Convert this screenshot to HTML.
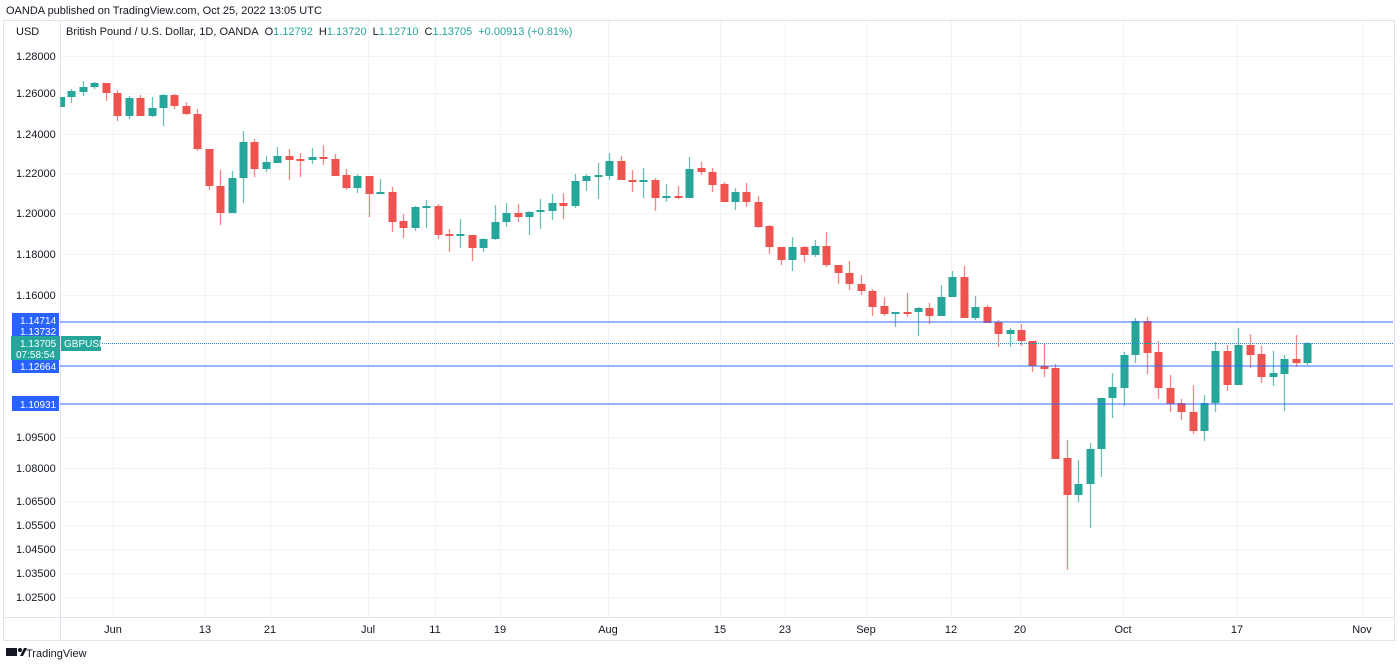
<!DOCTYPE html>
<html><head><meta charset="utf-8"><style>
body{margin:0;background:#fff;width:1400px;height:667px;overflow:hidden;font-family:"Liberation Sans",sans-serif}
svg{position:absolute;left:0;top:0}
</style></head><body>
<svg id="s" width="1400" height="667" xmlns="http://www.w3.org/2000/svg" font-family="Liberation Sans, sans-serif">
<text x="6" y="14" font-size="11" fill="#131722">OANDA published on TradingView.com, Oct 25, 2022 13:05 UTC</text>
<rect x="3.5" y="20.5" width="1391" height="620" fill="none" stroke="#e0e3eb"/>
<line x1="60.5" y1="20" x2="60.5" y2="640" stroke="#e0e3eb"/>
<line x1="3" y1="617.5" x2="1395" y2="617.5" stroke="#e0e3eb"/>
<g id="grid" stroke="#f0f3fa"></g>
<g id="c"></g>
<g id="axis" font-size="11" fill="#131722"></g>
<text x="16" y="35" font-size="11" fill="#131722">USD</text>
<text x="66" y="35" font-size="11" fill="#131722">British Pound / U.S. Dollar, 1D, OANDA<tspan dx="6">O</tspan><tspan fill="#26a69a">1.12792</tspan><tspan dx="6">H</tspan><tspan fill="#26a69a">1.13720</tspan><tspan dx="6">L</tspan><tspan fill="#26a69a">1.12710</tspan><tspan dx="6">C</tspan><tspan fill="#26a69a">1.13705</tspan><tspan dx="6" fill="#26a69a">+0.00913 (+0.81%)</tspan></text>
<g stroke="#2962ff" stroke-opacity="0.75" stroke-width="1.2">
<line x1="60" y1="322" x2="1393" y2="322"/>
<line x1="60" y1="366" x2="1393" y2="366"/>
<line x1="60" y1="404" x2="1393" y2="404"/>
</g>
<line x1="100" y1="343.5" x2="1393" y2="343.5" stroke="#26a69a" stroke-dasharray="1,1"/>
<line x1="100" y1="343.5" x2="1393" y2="343.5" stroke="#2962ff" stroke-opacity="0.5" stroke-dasharray="1,1"/>
<g font-size="10" fill="#fff">
<rect x="12" y="313" width="47" height="15" fill="#2962ff"/><text x="20" y="324">1.14714</text>
<rect x="12" y="324" width="47" height="14" fill="#2962ff"/><text x="20" y="335">1.13732</text>
<rect x="12" y="358" width="47" height="15" fill="#2962ff"/><text x="20" y="370">1.12664</text>
<rect x="12" y="396" width="47" height="15" fill="#2962ff"/><text x="20" y="408">1.10931</text>
<rect x="11" y="336" width="49" height="24" fill="#26a69a"/><text x="20" y="347">1.13705</text><text x="16" y="358">07:58:54</text>
<rect x="61" y="336" width="40" height="15" fill="#26a69a"/><text x="64" y="347">GBPUSD</text>
</g>
<g transform="translate(6,648)"><rect x="0" y="0" width="11" height="8" fill="#131722"/><circle cx="14" cy="2" r="2" fill="#131722"/><polygon points="14,8 18,0 21,0 17,8" fill="#131722"/></g>
<text x="26" y="657" font-size="11" fill="#131722">TradingView</text>
</svg>
<script>
var NS="http://www.w3.org/2000/svg",s=document.getElementById('s');
function el(p,t,a,txt){var e=document.createElementNS(NS,t);for(var k in a)e.setAttribute(k,a[k]);if(txt)e.textContent=txt;p.appendChild(e);return e;}
var grid=document.getElementById('grid'),ax=document.getElementById('axis'),cg=document.getElementById('c');
var py=[["1.28000",56],["1.26000",93],["1.24000",134],["1.22000",173],["1.20000",213],["1.18000",254],["1.16000",295],["1.09500",437],["1.08000",468],["1.06500",501],["1.05500",525],["1.04500",549],["1.03500",573],["1.02500",597]];
py.forEach(function(p){el(grid,'line',{x1:61,x2:1394,y1:p[1]+.5,y2:p[1]+.5});el(ax,'text',{x:16,y:p[1]+4},p[0]);});
var tx=[["Jun",113],["13",205],["21",270],["Jul",368],["11",435],["19",500],["Aug",608],["15",720],["23",785],["Sep",866],["12",951],["20",1020],["Oct",1123],["17",1237],["Nov",1362]];
tx.forEach(function(t){el(grid,'line',{x1:t[1]+.5,x2:t[1]+.5,y1:21,y2:617});el(ax,'text',{x:t[1],y:633,'text-anchor':'middle'},t[0]);});
var d=[
"g97,107,97,107","g91,97,89,103","g87,92,81,96","g83,87,82,89","r83,93,83,101","r93,116,90,121","g98,116,96,119","r98,116,95,116","g108,116,97,117","g95,108,94,126",
"r95,106,94,109","r106,114,102,115","r114,149,109,151","r149,186,149,190","r186,213,170,225","g178,213,171,213","g142,178,131,203","r142,169,139,177","g162,169,156,172","g156,163,147,163",
"r156,160,149,180","r159,161,153,177","g157,160,148,164","r157,159,145,165","r159,176,154,176","r175,188,169,190","g176,188,174,193","r176,194,176,217","g192,194,179,194","r192,222,187,232",
"r221,228,214,238","g207,228,206,231","g206,208,200,228","r206,235,204,239","r234,236,229,252","g234,236,219,248","r235,248,235,261","g239,248,238,252","g222,239,205,240","g213,222,203,227",
"r213,217,204,222","g212,217,211,235","g210,212,199,229","g203,211,194,220","r203,206,193,219","g181,206,174,208","g176,181,174,191","g175,177,163,199","g161,176,153,180","r161,180,156,180",
"r180,182,170,192","g180,182,168,198","r180,198,178,211","g196,198,184,202","r196,198,186,199","g169,198,157,198","r168,172,162,175","r172,185,168,192","r184,202,182,202","g192,202,188,210",
"r192,202,183,207","r202,227,196,228","r226,247,225,254","r247,260,247,265","g247,260,237,271","r247,255,246,262","g246,255,240,257","r246,265,232,267","r265,273,265,284","r273,284,261,290",
"r284,291,275,295","r291,307,289,316","r306,314,297,316","g312,314,312,327","r312,313,293,317","g308,312,307,336","r308,316,303,324","g297,316,285,316","g277,297,271,297","r277,318,266,318",
"g307,318,296,320","r307,323,305,323","r322,334,320,347","g330,334,328,347","r330,341,324,346","r341,366,341,372","r366,369,344,377","r368,459,364,459","r458,495,440,570","g484,495,460,502",
"g449,484,443,528","g398,449,398,477","g387,398,373,418","g355,388,352,406","g321,355,318,363","r321,353,317,374","r352,388,341,399","r388,404,375,412","r403,412,399,420","r412,431,385,434",
"g403,431,395,441","g351,403,342,412","r351,385,345,391","g345,385,328,385","r345,355,334,368","r354,377,346,383","g373,377,351,386","g359,374,355,411","r359,363,335,367","g343,363,342,365"];
d.forEach(function(v,i){var c=v[0]=='g'?'#26a69a':'#ef5350';var n=v.slice(1).split(',').map(Number);var x=Math.round(60+11.44*i);
el(cg,'line',{x1:x+.5,x2:x+.5,y1:n[2],y2:n[3],stroke:c,'stroke-opacity':0.7,'stroke-width':1.3});
var h=Math.max(n[1]-n[0],2);var bx=i==0?61:x-3.5;var bw=i==0?4:8;
el(cg,'rect',{x:bx,y:n[0],width:bw,height:h,fill:c});});
</script>
</body></html>
